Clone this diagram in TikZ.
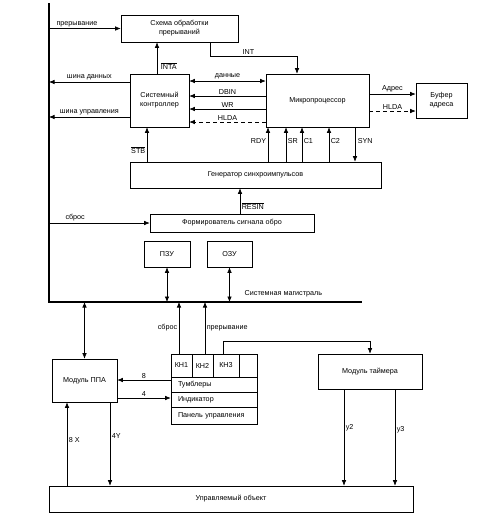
\documentclass[tikz,border=0pt]{standalone}
\usepackage{fontspec}
\setmainfont{Liberation Sans}
\usetikzlibrary{arrows.meta}
\begin{document}
\begin{tikzpicture}[x=1pt,y=-1pt,
  font=\fontsize{7.2}{9}\selectfont,
  box/.style={draw, line width=0.6pt, inner sep=1pt, align=center},
  arr/.style={draw, line width=0.6pt, -{Latex[length=5.5pt,width=4.5pt]}},
  darr/.style={draw, line width=0.6pt, {Latex[length=5.5pt,width=4.5pt]}-{Latex[length=5.5pt,width=4.5pt]}},
  dsh/.style={dash pattern=on 4pt off 3pt},
  lbl/.style={inner sep=1.5pt},
  bus/.style={line width=2.6pt}]
\useasboundingbox (0,0) rectangle (479,515);

% bus
\coordinate (bustop) at (49,3);
\coordinate (buscorner) at (49,302);
\coordinate (busend) at (362,302);
\draw[bus] (bustop) -- (buscorner) -- (busend);
\node[lbl, anchor=south west] (buslbl) at (243,299) {Системная магистраль};

% upper boxes
\node[box, minimum width=117pt, minimum height=27pt] (sch) at (179.5,28.5) {Схема обработки\\прерываний};
\node[box, minimum width=59pt, minimum height=53pt] (ctrl) at (159.5,100.5) {Системный\\контроллер};
\node[box, minimum width=103pt, minimum height=53pt] (mp) at (317.5,100.5) {Микропроцессор};
\node[box, minimum width=51pt, minimum height=35pt] (buf) at (441.5,100.5) {Буфер\\адреса};
\node[box, minimum width=251pt, minimum height=26pt] (gen) at (255.5,175) {Генератор синхроимпульсов};
\node[box, minimum width=164pt, minimum height=18pt] (form) at (232,223) {Формирователь сигнала обро};
\node[box, minimum width=46pt, minimum height=26pt] (pzu) at (167,254) {ПЗУ};
\node[box, minimum width=45pt, minimum height=26pt] (ozu) at (229.5,254) {ОЗУ};

% connectors upper
\draw[arr] (bustop |- sch.west) -- (sch.west) node[lbl, pos=0.39, above] {прерывание};
\draw[arr] (sch.south -| 210,0) -- (210,56) -| (mp.north -| 297,0);
\node[lbl, anchor=south west] (intlbl) at (241,56) {INT};
\draw[arr] (ctrl.north -| 157,0) -- (sch.south -| 157,0) node[lbl, pos=0.25, right, xshift=2pt] {$\overline{\mbox{INTA}}$};
\draw[arr] (ctrl.west |- 0,82) -- (bustop |- 0,82) node[lbl, midway, above] {шина данных};
\draw[arr] (ctrl.west |- 0,117) -- (bustop |- 0,117) node[lbl, midway, above] {шина управления};
\draw[darr] (ctrl.east |- 0,81) -- (mp.west |- 0,81) node[lbl, midway, above] {данные};
\draw[arr] (mp.west |- 0,96) -- (ctrl.east |- 0,96) node[lbl, midway, above] {DBIN};
\draw[arr] (mp.west |- 0,109) -- (ctrl.east |- 0,109) node[lbl, midway, above] {WR};
\draw[arr, dsh] (mp.west |- 0,122) -- (ctrl.east |- 0,122) node[lbl, midway, above] {HLDA};
\draw[arr] (mp.east |- 0,94) -- (buf.west |- 0,94) node[lbl, midway, above] {Адрес};
\draw[arr, dsh] (mp.east |- 0,111) -- (buf.west |- 0,111) node[lbl, midway, above] {HLDA};

\draw[arr] (gen.north -| 147,0) -- (ctrl.south -| 147,0) node[lbl, pos=0.33, left] {$\overline{\mbox{STB}}$};
\draw[arr] (gen.north -| 268,0) -- (mp.south -| 268,0) node[lbl, pos=0.6, left] {RDY};
\draw[arr] (gen.north -| 286,0) -- (mp.south -| 286,0) node[lbl, pos=0.6, right] {SR};
\draw[arr] (gen.north -| 302,0) -- (mp.south -| 302,0) node[lbl, pos=0.6, right] {C1};
\draw[arr] (gen.north -| 329,0) -- (mp.south -| 329,0) node[lbl, pos=0.6, right] {C2};
\draw[arr] (mp.south -| 355,0) -- (gen.north -| 355,0) node[lbl, pos=0.4, right, xshift=1pt] {SYN};
\draw[arr] (form.north -| 240,0) -- (gen.south -| 240,0) node[lbl, pos=0.3, right] {$\overline{\mbox{RESIN}}$};
\draw[arr] (bustop |- form.west) -- (form.west) node[lbl, pos=0.26, above] {сброс};
\draw[darr] (pzu.south) -- (pzu.south |- buscorner);
\draw[darr] (ozu.south) -- (ozu.south |- buscorner);

% lower boxes
\node[box, minimum width=65pt, minimum height=43pt] (ppa) at (84.5,380.5) {Модуль ППА};
\node[box, minimum width=86pt, minimum height=70pt] (panel) at (214,389) {};
\node[box, minimum width=21pt, minimum height=23pt] (kn1) at (181.5,365.5) {КН1};
\node[box, minimum width=21pt, minimum height=23pt] (kn2) at (202.5,365.5) {КН2};
\node[box, minimum width=26pt, minimum height=23pt] (kn3) at (226,365.5) {КН3};
\node[box, minimum width=86pt, minimum height=15pt, text width=72pt, inner xsep=7pt, align=left] (tumb) at (214,384.5) {Тумблеры};
\node[box, minimum width=86pt, minimum height=15pt, text width=72pt, inner xsep=7pt, align=left] (ind) at (214,399.5) {Индикатор};
\node[box, minimum width=86pt, minimum height=17pt, text width=72pt, inner xsep=7pt, align=left] (pu) at (214,415.5) {Панель управления};
\node[box, minimum width=104pt, minimum height=35pt] (timer) at (370,371.5) {Модуль таймера};
\node[box, minimum width=364pt, minimum height=26pt] (obj) at (231,499) {Управляемый объект};

% lower connectors
\draw[darr] (buscorner -| ppa.north) -- (ppa.north);
\draw[arr] (kn1.north -| 179,0) -- (buscorner -| 179,0) node[lbl, midway, left] {сброс};
\draw[arr] (kn2.north -| 205,0) -- (buscorner -| 205,0) node[lbl, midway, right] {прерывание};
\draw[arr] (kn3.north -| 223,0) -- (223,341) -| (timer.north);
\draw[arr] (panel.west |- 0,380) -- (ppa.east |- 0,380) node[lbl, midway, above] {8};
\draw[arr] (ppa.east |- 0,398) -- (panel.west |- 0,398) node[lbl, midway, above] {4};
\draw[arr] (obj.north -| 67,0) -- (ppa.south -| 67,0) node[lbl, pos=0.55, right] {8 X};
\draw[arr] (ppa.south -| 110,0) -- (obj.north -| 110,0) node[lbl, pos=0.4, right] {4Y};
\draw[arr] (timer.south -| 344,0) -- (obj.north -| 344,0) node[lbl, pos=0.4, right] {y2};
\draw[arr] (timer.south -| 395,0) -- (obj.north -| 395,0) node[lbl, pos=0.42, right] {y3};
\end{tikzpicture}
\end{document}
